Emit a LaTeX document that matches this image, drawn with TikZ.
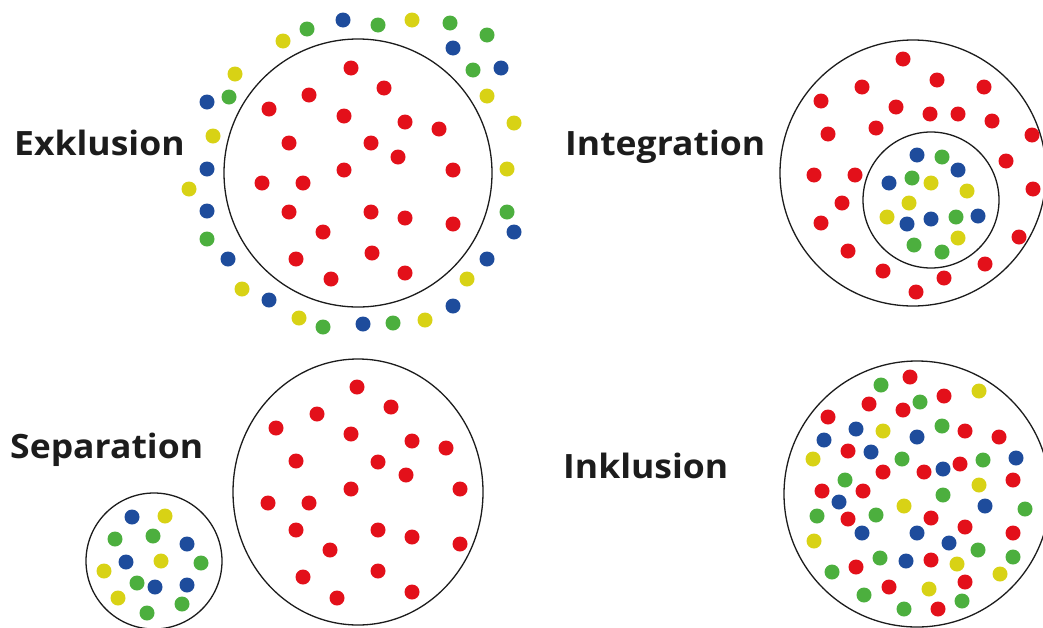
\documentclass[tikz,border=0pt]{standalone}
\usepackage{fontspec}
\setmainfont{Open Sans}
\definecolor{dred}{HTML}{E3101A}
\definecolor{dblue}{HTML}{1E4C9C}
\definecolor{dgreen}{HTML}{4CAF3E}
\definecolor{dyellow}{HTML}{D8D215}
\definecolor{ink}{HTML}{1C1C1C}
\begin{document}
\begin{tikzpicture}[x=1pt,y=-1pt,
  ring/.style={draw=ink, line width=1.3pt},
  lbl/.style={font=\bfseries\fontsize{33.5}{33.5}\selectfont, text=ink, anchor=base west, inner sep=0pt, xscale=1.06}]
\useasboundingbox (0,0) rectangle (1043,627);
\clip (0,0) rectangle (1043,627);
\fill[white] (0,0) rectangle (1043,627);

% ---------- Exklusion ----------
\node[lbl] (exk) at (14,155) {Exklusion};
\draw[ring] (358,173) circle[radius=134pt];
\foreach \a/\b in {351/68,384/88,309/95,269/109,344/116,405/122,439/129,289/143,371/143,398/157,262/183,303/183,344/170,453/170,289/212,371/212,405/218,453/224,323/232,296/259,372/253,331/279,405/273}
  \fill[dred] (\a,\b) circle[radius=7.5pt];
\foreach \a/\b in {343/20,453/48,501/68,207/102,207/169,207/211,228/259,269/300,363/324,453/306,487/259,514/232}
  \fill[dblue] (\a,\b) circle[radius=7.5pt];
\foreach \a/\b in {307/29,378/25,450/23,487/35,473/70,229/97,207/239,323/327,393/323,507/212}
  \fill[dgreen] (\a,\b) circle[radius=7.5pt];
\foreach \a/\b in {283/41,412/20,235/74,213/136,189/189,242/289,299/318,425/320,467/279,507/169,514/123,487/96}
  \fill[dyellow] (\a,\b) circle[radius=7.5pt];

% ---------- Integration ----------
\node[lbl] (int) at (565,155) {Integration};
\draw[ring] (913,173) circle[radius=133pt];
\draw[ring] (931,200) circle[radius=68pt];
\foreach \a/\b in {903/59,937/80,862/87,984/87,821/101,896/107,930/114,958/114,992/121,828/134,876/128,1032/135,1006/161,814/175,855/175,1033/189,842/203,821/223,1019/237,848/251,883/271,944/278,985/264,916/292}
  \fill[dred] (\a,\b) circle[radius=7.5pt];
\foreach \a/\b in {917/155,958/170,889/183,907/224,931/219,978/216}
  \fill[dblue] (\a,\b) circle[radius=7.5pt];
\foreach \a/\b in {942/157,912/178,956/217,914/245,942/252}
  \fill[dgreen] (\a,\b) circle[radius=7.5pt];
\foreach \a/\b in {931/183,967/191,909/203,887/217,958/238}
  \fill[dyellow] (\a,\b) circle[radius=7.5pt];

% ---------- Separation ----------
\node[lbl] (sep) at (10,458) {Separation};
\draw[ring] (358,492) ellipse[x radius=125pt, y radius=133pt];
\draw[ring] (154,561) circle[radius=68pt];
\foreach \a/\b in {357/387,391/407,317/414,276/428,351/434,412/441,446/448,296/461,378/462,406/475,351/489,460/489,268/503,309/503,296/530,378/530,412/537,460/544,330/550,303/577,378/571,337/598,412/592}
  \fill[dred] (\a,\b) circle[radius=7.5pt];
\foreach \a/\b in {132/517,187/544,126/562,155/587,187/585}
  \fill[dblue] (\a,\b) circle[radius=7.5pt];
\foreach \a/\b in {115/539,153/536,201/563,137/583,182/604,147/613}
  \fill[dgreen] (\a,\b) circle[radius=7.5pt];
\foreach \a/\b in {165/516,161/561,104/571,118/598}
  \fill[dyellow] (\a,\b) circle[radius=7.5pt];

% ---------- Inklusion ----------
\node[lbl] (ink) at (563,478) {Inklusion};
\draw[ring] (917,494) circle[radius=133pt];
\foreach \a/\b in {910/377,944/396,869/404,903/410,828/417,965/431,999/437,848/451,960/464,924/472,883/472,1013/480,822/491,863/491,848/519,931/518,965/527,1013/533,931/560,856/567,965/582,889/587,938/609}
  \fill[dred] (\a,\b) circle[radius=7.5pt];
\foreach \a/\b in {856/429,824/440,917/437,871/452,1016/458,943/469,839/502,985/506,862/533,917/533,949/543,906/561}
  \fill[dblue] (\a,\b) circle[radius=7.5pt];
\foreach \a/\b in {881/385,920/402,942/426,902/459,983/460,845/480,943/495,1025/509,817/516,876/515,978/550,1013/557,880/558,832/572,864/595,962/601,904/609}
  \fill[dgreen] (\a,\b) circle[radius=7.5pt];
\foreach \a/\b in {979/391,883/431,813/459,979/485,904/506,814/541,957/564,1000/574,929/589}
  \fill[dyellow] (\a,\b) circle[radius=7.5pt];
\end{tikzpicture}
\end{document}
